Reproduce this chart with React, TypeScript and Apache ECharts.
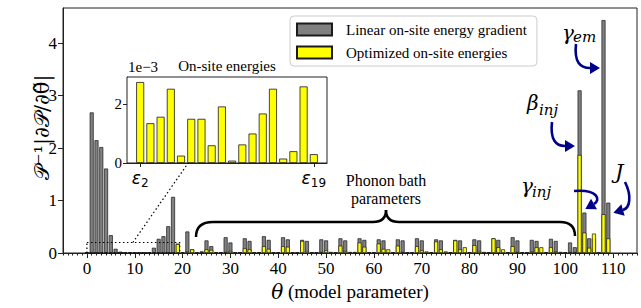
import React, { useEffect, useRef } from 'react';
import * as echarts from 'echarts';

const thetaMajorTicks = [0, 10, 20, 30, 40, 50, 60, 70, 80, 90, 100, 110];
const yTicks = [0, 1, 2, 3, 4];
const greyGradient = [
  0.004, 2.68, 2.15, 2.02, 1.61, 0.34, 0.08, 0.025, 0.005, 0.004,
  0.003, 0.003, 0.004, 0.01, 0.1, 0.27, 0.32, 0.51, 1.07, 0.18,
  0.01, 0.41, 0.07, 0.01, 0.03, 0.24, 0.13, 0.01, 0.01, 0.3,
  0.2, 0.01, 0.01, 0.28, 0.23, 0.01, 0.01, 0.32, 0.25, 0.01,
  0.01, 0.3, 0.26, 0.01, 0.01, 0.25, 0.23, 0.01, 0.01, 0.26,
  0.24, 0.01, 0.01, 0.28, 0.24, 0.01, 0.01, 0.28, 0.25, 0.01,
  0.01, 0.26, 0.24, 0.01, 0.01, 0.26, 0.24, 0.01, 0.01, 0.28,
  0.24, 0.01, 0.01, 0.26, 0.24, 0.01, 0.01, 0.25, 0.24, 0.01,
  0.01, 0.26, 0.24, 0.01, 0.01, 0.28, 0.25, 0.01, 0.01, 0.3,
  0.24, 0.01, 0.01, 0.25, 0.23, 0.01, 0.01, 0.27, 0.23, 0.01,
  0.01, 0.2, 0.11, 3.1, 0.77, 0.28, 0.28, 0.0, 4.44, 0.96,
];
const yellowOptimized = [
  0.0, 0.00275, 0.00135, 0.00157, 0.00252, 0.00025, 0.0015, 0.0015, 0.0006, 0.00192,
  0.00008, 0.00063, 0.001, 0.00168, 0.00252, 0.00015, 0.0004, 0.0026, 0.0003, 0.17,
  0.01, 0.03, 0.07, 0.01, 0.02, 0.07, 0.06, 0.01, 0.01, 0.02,
  0.04, 0.01, 0.01, 0.09, 0.07, 0.01, 0.01, 0.13, 0.08, 0.01,
  0.01, 0.13, 0.12, 0.01, 0.01, 0.23, 0.04, 0.01, 0.01, 0.02,
  0.05, 0.02, 0.01, 0.14, 0.04, 0.02, 0.02, 0.2, 0.12, 0.01,
  0.01, 0.18, 0.08, 0.07, 0.01, 0.14, 0.02, 0.01, 0.01, 0.13,
  0.05, 0.03, 0.01, 0.22, 0.07, 0.03, 0.01, 0.24, 0.07, 0.11,
  0.01, 0.15, 0.04, 0.02, 0.01, 0.28, 0.11, 0.07, 0.01, 0.13,
  0.02, 0.01, 0.01, 0.03, 0.11, 0.11, 0.01, 0.11, 0.03, 0.02,
  0.01, 0.02, 0.02, 1.87, 0.39, 0.1, 0.37, 0.0, 0.74, 0.28,
];
const insetEnergies = [2.75, 1.35, 1.57, 2.52, 0.25, 1.5, 1.5, 0.6, 1.92, 0.08, 0.63, 1.0, 1.68, 2.52, 0.15, 0.4, 2.6, 0.3];
const insetTickIdx = [0, 17];
const insetTickSubs = ['2', '19'];
const insetYTicks = [0, 2];

const GREY_NAME = 'Linear on-site energy gradient';
const YELLOW_NAME = 'Optimized on-site energies';
const Y_LABEL = '𝒫⁻¹|∂𝒫/∂θ̃|';
const SERIF = 'Liberation Serif';
const MATH = 'DejaVu Serif';
const SANS = 'DejaVu Sans';
const NAVY = '#00008b';

function arrow(p0: number[], c1: number[], c2: number[], p1: number[]) {
  const dx = p1[0] - c2[0];
  const dy = p1[1] - c2[1];
  const L = Math.hypot(dx, dy) || 1;
  const ux = dx / L, uy = dy / L;
  const nx = -uy, ny = ux;
  const tip = [p1[0] + ux * 10, p1[1] + uy * 10];
  const b1 = [p1[0] + nx * 6, p1[1] + ny * 6];
  const b2 = [p1[0] - nx * 6, p1[1] - ny * 6];
  return [
    {
      type: 'bezierCurve', z: 100,
      shape: { x1: p0[0], y1: p0[1], cpx1: c1[0], cpy1: c1[1], cpx2: c2[0], cpy2: c2[1], x2: p1[0], y2: p1[1] },
      style: { stroke: NAVY, lineWidth: 2.6, fill: null },
    },
    { type: 'polygon', z: 100, shape: { points: [tip, b1, b2] }, style: { fill: NAVY } },
  ];
}

function txt(text: string, x: number, y: number, size: number, italic = false, align = 'left', family = SERIF) {
  return {
    type: 'text', z: 100,
    style: { text, x, y, fill: '#000', fontSize: size, fontFamily: family, fontStyle: italic ? 'italic' : 'normal', align, verticalAlign: 'middle' },
  };
}

export default function App() {
  const ref = useRef<HTMLDivElement>(null);
  useEffect(() => {
    document.body.style.margin = '0';
    if (!ref.current) return;
    const chart = echarts.init(ref.current, null, { renderer: 'svg' });
    const minorTicks = Array.from({ length: 121 }, (_, i) => i - 5);
    const axisLineStyle = { color: '#222', width: 1 };
    const option: any = {
      animation: false,
      backgroundColor: '#fff',
      grid: [
        { left: 63, top: 8, width: 574, height: 245, show: true, borderColor: '#222', borderWidth: 1, backgroundColor: 'transparent' },
        { left: 127, top: 77, width: 200, height: 86, show: true, borderColor: '#222', borderWidth: 1, backgroundColor: '#fff', z: 5 },
      ],
      legend: {
        data: [GREY_NAME, YELLOW_NAME],
        orient: 'vertical', left: 290, top: 16,
        itemWidth: 35, itemHeight: 12, itemGap: 8,
        padding: [6, 10, 6, 6],
        borderColor: '#ccc', borderWidth: 1, borderRadius: 4,
        backgroundColor: 'rgba(255,255,255,0.85)',
        icon: 'rect',
        textStyle: { fontFamily: SERIF, fontSize: 15, color: '#000', padding: [0, 0, 0, 9] },
        z: 20,
      },
      xAxis: [
        {
          gridIndex: 0, type: 'value', min: -5, max: 115, position: 'bottom',
          axisLine: { show: true, onZero: false, lineStyle: axisLineStyle },
          axisTick: { show: true, customValues: thetaMajorTicks, length: 5, lineStyle: axisLineStyle },
          axisLabel: { customValues: thetaMajorTicks, fontSize: 17, fontFamily: SERIF, color: '#000', margin: 7 },
          splitLine: { show: false },
          name: '{i|θ} (model parameter)', nameLocation: 'middle', nameGap: 28,
          nameTextStyle: { fontFamily: SERIF, fontSize: 19, color: '#000', rich: { i: { fontFamily: MATH, fontSize: 20, fontStyle: 'italic', color: '#000' } } },
        },
        {
          gridIndex: 0, type: 'value', min: -5, max: 115, position: 'bottom',
          axisLine: { show: false, onZero: false },
          axisTick: { show: true, customValues: minorTicks, length: 2.5, lineStyle: axisLineStyle },
          axisLabel: { show: false },
          splitLine: { show: false },
        },
        {
          gridIndex: 1, type: 'value', min: -1.29, max: 18.29,
          axisLine: { show: true, onZero: false, lineStyle: axisLineStyle },
          axisTick: { show: true, customValues: insetTickIdx, length: 4, lineStyle: axisLineStyle },
          axisLabel: {
            customValues: insetTickIdx, margin: 4,
            formatter: (v: number) => '{e|ε}{s|' + insetTickSubs[insetTickIdx.indexOf(Math.round(v))] + '}',
            rich: {
              e: { fontFamily: SANS, fontStyle: 'italic', fontSize: 17, color: '#000' },
              s: { fontFamily: SANS, fontSize: 12, color: '#000', padding: [10, 0, 0, 0] },
            },
          },
          splitLine: { show: false },
        },
      ],
      yAxis: [
        {
          gridIndex: 0, type: 'value', min: 0, max: 4.67, position: 'left',
          axisLine: { show: true, onZero: false, lineStyle: axisLineStyle },
          axisTick: { show: true, customValues: yTicks, length: 5, lineStyle: axisLineStyle },
          axisLabel: { customValues: yTicks, fontSize: 17, fontFamily: SERIF, color: '#000', margin: 6 },
          splitLine: { show: false },
        },
        {
          gridIndex: 1, type: 'value', min: 0, max: 2.92, position: 'left',
          axisLine: { show: true, onZero: false, lineStyle: axisLineStyle },
          axisTick: { show: true, customValues: insetYTicks, length: 4, lineStyle: axisLineStyle },
          axisLabel: { customValues: insetYTicks, fontSize: 15, fontFamily: SERIF, color: '#000', margin: 5 },
          splitLine: { show: false },
        },
      ],
      series: [
        {
          type: 'bar', name: GREY_NAME, xAxisIndex: 0, yAxisIndex: 0,
          data: greyGradient.map((v, i) => [i, v]),
          barWidth: 4, barGap: '-100%',
          itemStyle: { color: '#808080', borderColor: '#1a1a1a', borderWidth: 0.7 },
        },
        {
          type: 'bar', name: YELLOW_NAME, xAxisIndex: 0, yAxisIndex: 0,
          data: yellowOptimized.map((v, i) => [i, v]),
          barWidth: 4, barGap: '-100%',
          itemStyle: { color: '#ffff00', borderColor: '#1a1a1a', borderWidth: 0.7 },
        },
        {
          type: 'bar', name: 'inset', xAxisIndex: 2, yAxisIndex: 1, z: 6,
          data: insetEnergies.map((v, i) => [i, v]),
          barWidth: 8,
          itemStyle: { color: '#ffff00', borderColor: '#1a1a1a', borderWidth: 0.8 },
        },
      ],
    };
    chart.setOption(option);

    const px = (x: number, y: number) => chart.convertToPixel({ xAxisIndex: 0, yAxisIndex: 0 }, [x, y]) as number[];
    const ipx = (x: number, y: number) => chart.convertToPixel({ xAxisIndex: 2, yAxisIndex: 1 }, [x, y]) as number[];
    const r0 = px(0, 0);
    const r1 = px(19.4, 0.2);
    const c0 = px(9.6, 0.2);
    const c1 = ipx(4.7, 0);
    const dotted = { stroke: '#000', lineWidth: 1.2, lineDash: [1.5, 2.5], fill: null };
    const braceStyle = { stroke: '#000', lineWidth: 2.5, fill: null };
    const graphic: any[] = [
      {
        type: 'text', z: 100, x: 42, y: 127, rotation: Math.PI / 2,
        style: { text: Y_LABEL, fill: '#000', fontSize: 21, fontFamily: MATH, align: 'center', verticalAlign: 'middle' },
      },
      { type: 'rect', z: 50, shape: { x: r0[0], y: r1[1], width: r1[0] - r0[0], height: r0[1] - r1[1] }, style: dotted },
      { type: 'line', z: 50, shape: { x1: c0[0], y1: c0[1], x2: c1[0], y2: c1[1] }, style: dotted },
      txt('On-site energies', 227, 66, 15, false, 'center'),
      txt('1e\u22123', 128, 67, 15, false, 'left'),
      { type: 'bezierCurve', z: 50, shape: { x1: 196, y1: 237, cpx1: 196, cpy1: 222, x2: 213, y2: 222 }, style: braceStyle },
      { type: 'line', z: 50, shape: { x1: 213, y1: 222, x2: 373, y2: 222 }, style: braceStyle },
      { type: 'bezierCurve', z: 50, shape: { x1: 373, y1: 222, cpx1: 386, cpy1: 222, x2: 386, y2: 210 }, style: braceStyle },
      { type: 'bezierCurve', z: 50, shape: { x1: 386, y1: 210, cpx1: 386, cpy1: 222, x2: 399, y2: 222 }, style: braceStyle },
      { type: 'line', z: 50, shape: { x1: 399, y1: 222, x2: 560, y2: 222 }, style: braceStyle },
      { type: 'bezierCurve', z: 50, shape: { x1: 560, y1: 222, cpx1: 575, cpy1: 222, x2: 575, y2: 236 }, style: braceStyle },
      txt('Phonon bath', 386, 180, 16, false, 'center'),
      txt('parameters', 386, 198, 16, false, 'center'),
      txt('γ', 562, 33, 20, true, 'left', MATH),
      txt('em', 573, 37, 15, true, 'left', MATH),
      txt('β', 527, 103, 20, true, 'left', MATH),
      txt('inj', 539, 110, 15, true, 'left', MATH),
      txt('γ', 521, 186, 20, true, 'left', MATH),
      txt('inj', 532, 192, 15, true, 'left', MATH),
      txt('J', 615, 172, 21, true, 'left', MATH),
      ...arrow([576, 44], [574, 62], [580, 68], [590, 68]),
      ...arrow([552, 122], [550, 140], [556, 146], [565, 146]),
      ...arrow([574, 191], [598, 189], [601, 200], [594, 204]),
      ...arrow([625, 182], [632, 196], [630, 208], [623, 210]),
    ];
    chart.setOption({ graphic });
    return () => chart.dispose();
  }, []);
  return <div ref={ref} style={{ width: 641, height: 308 }} />;
}
